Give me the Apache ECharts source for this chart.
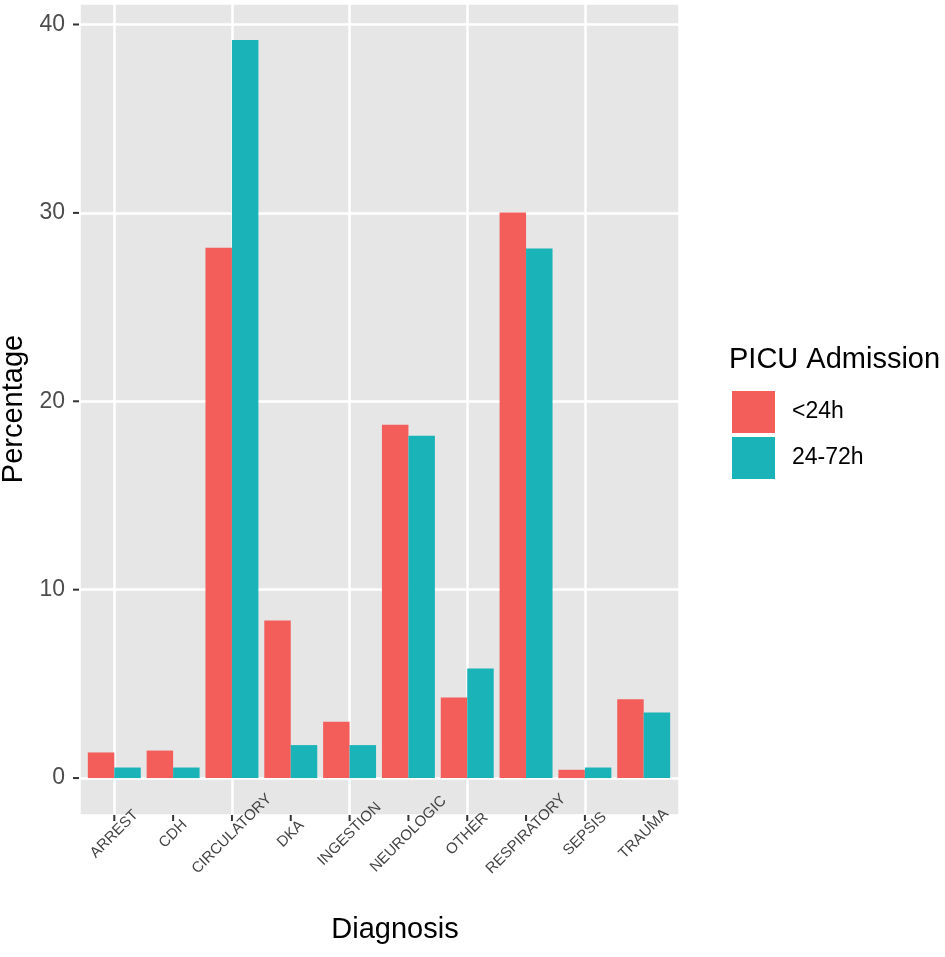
<!DOCTYPE html>
<html>
<head>
<meta charset="utf-8">
<script src="https://cdn.jsdelivr.net/npm/echarts@6/dist/echarts.min.js"></script>
<style>
html,body{margin:0;padding:0;background:#fff;}
#echartsDiv{width:945px;height:957px;}
</style>
</head>
<body>
<div id="echartsDiv"></div>
<script>
var categories=['ARREST','CDH','CIRCULATORY','DKA','INGESTION','NEUROLOGIC','OTHER','RESPIRATORY','SEPSIS','TRAUMA'];
var under24=[1.36,1.46,28.15,8.36,2.99,18.76,4.28,30.02,0.44,4.19];
var from24to72=[0.56,0.56,39.18,1.75,1.75,18.17,5.82,28.11,0.56,3.48];
var seriesNames=['<24h','24-72h'];
var yTicks=[0,10,20,30,40];
var yMinorTicks=[5,15,25,35];

var myChart=echarts.init(document.getElementById('echartsDiv'));

//类别下标作为x值
var xTicks=categories.map(function(c,i){return i;});
function pairs(arr){
	return arr.map(function(v,i){return [i,v];});
}

var font='Liberation Sans, Arial, sans-serif';
var xRange=[-0.6,9.6];
var yRange=[-1.96,41.14];

//刻度线用标签里的小方块画
function tickAxis(range,values,w,h){
	return {
		type:'value',
		min:range[0],
		max:range[1],
		axisLine:{show:false,onZero:false},
		axisTick:{show:false},
		splitLine:{show:false},
		axisLabel:{
			customValues:values,
			margin:0,
			formatter:function(){return '{t| }';},
			rich:{t:{width:w,height:h,lineHeight:h,fontSize:1,backgroundColor:'#333'}}
		}
	};
}

var option={
	textStyle:{fontFamily:font},
	title:{
		text:'PICU Admission',
		left:724,
		top:340,
		textStyle:{fontSize:29,fontWeight:'normal',color:'#000',fontFamily:font}
	},
	legend:{
		data:seriesNames,
		orient:'vertical',
		left:727,
		top:386,
		icon:'rect',
		itemWidth:43,
		itemHeight:42,
		itemGap:4,
		textStyle:{fontSize:23,color:'#000',padding:[0,0,0,12],fontFamily:font}
	},
	grid:{
		left:79,
		right:266,
		top:3,
		bottom:142,
		outerBoundsMode:'none',
		show:true,
		backgroundColor:'#E6E6E6',
		borderWidth:0
	},
	xAxis:[{
		type:'value',
		position:'bottom',
		min:xRange[0],
		max:xRange[1],
		name:'Diagnosis',
		nameLocation:'middle',
		nameGap:100,
		nameTextStyle:{fontSize:29,color:'#000',padding:[0,0,0,32]},
		axisLine:{show:false,onZero:false},
		axisTick:{show:false},
		axisLabel:{
			customValues:xTicks,
			rotate:45,
			align:'center',
			margin:19,
			fontSize:15,
			color:'#444',
			formatter:function(v){return categories[Math.round(v)];}
		},
		splitLine:{show:true,customValues:xTicks,lineStyle:{color:'#fff',width:2.5}}
	},Object.assign({position:'bottom'},tickAxis(xRange,xTicks,2,6))],
	yAxis:[{
		type:'value',
		position:'left',
		min:yRange[0],
		max:yRange[1],
		name:'Percentage',
		nameLocation:'middle',
		nameGap:49,
		nameTextStyle:{fontSize:29,color:'#000'},
		axisLine:{show:false,onZero:false},
		axisTick:{show:false},
		axisLabel:{customValues:yTicks,fontSize:23,color:'#4D4D4D',margin:14},
		splitLine:{show:true,customValues:yTicks,lineStyle:{color:'#fff',width:2.5}}
	},{
		//次网格线
		type:'value',
		position:'right',
		min:yRange[0],
		max:yRange[1],
		axisLine:{show:false,onZero:false},
		axisTick:{show:false},
		axisLabel:{show:false,customValues:yMinorTicks},
		splitLine:{show:true,customValues:yMinorTicks,lineStyle:{color:'#fff',width:1.2}}
	},Object.assign({position:'left'},tickAxis(yRange,yTicks,6,2))],
	series:[{
		name:seriesNames[0],
		type:'bar',
		data:pairs(under24),
		barWidth:'45%',
		barGap:'0%',
		itemStyle:{color:'#F35E5A'}
	},{
		name:seriesNames[1],
		type:'bar',
		data:pairs(from24to72),
		barWidth:'45%',
		barGap:'0%',
		itemStyle:{color:'#19B3B8'}
	}]
};
myChart.setOption(option);
</script>
</body>
</html>
